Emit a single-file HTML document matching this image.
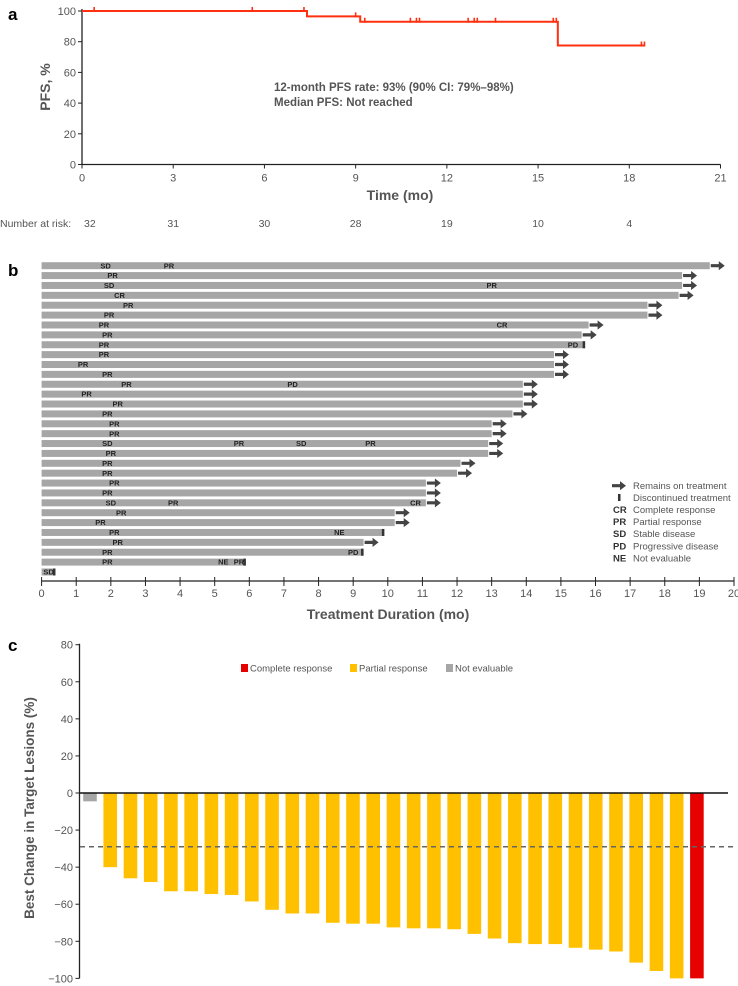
<!DOCTYPE html>
<html><head><meta charset="utf-8"><style>
html,body{margin:0;padding:0;background:#fff;}
svg{display:block;font-family:"Liberation Sans",Arial,sans-serif;}
</style></head><body>
<svg id="fig" width="738" height="986" viewBox="0 0 738 986" xmlns="http://www.w3.org/2000/svg"></svg>
<script>
// ---------- Panel a data ----------
const kmTimes = [0, 7.4, 9.15, 15.65, 18.5];
const kmSurv = [100, 96.5, 93, 77.5, 77.5];
const kmCensorT = [0.4, 5.6, 7.3, 9.0, 9.3, 10.8, 11.0, 11.1, 12.7, 12.9, 13.0, 13.6, 15.5, 15.6, 18.4, 18.5];
const kmXTicks = [0, 3, 6, 9, 12, 15, 18, 21];
const kmYTicks = [0, 20, 40, 60, 80, 100];
const atRisk = [32, 31, 30, 28, 19, 10, 4];
// ---------- Panel b data ----------
const swEnd = [19.3,18.5,18.5,18.4,17.5,17.5,15.8,15.6,15.7,14.8,14.8,14.8,13.9,13.9,13.9,13.6,13.0,13.0,12.9,12.9,12.1,12.0,11.1,11.1,11.1,10.2,10.2,9.9,9.3,9.3,5.9,0.4];
const swOngoing = [1,1,1,1,1,1,1,1,0,1,1,1,1,1,1,1,1,1,1,1,1,1,1,1,1,1,1,0,1,0,0,0];
const swLabels = [
 [["SD",1.85],["PR",3.68]],[["PR",2.05]],[["SD",1.95],["PR",13.0]],[["CR",2.25]],[["PR",2.5]],[["PR",1.95]],
 [["PR",1.8],["CR",13.3]],[["PR",1.9]],[["PR",1.8],["PD",15.35]],[["PR",1.8]],[["PR",1.2]],[["PR",1.9]],
 [["PR",2.45],["PD",7.25]],[["PR",1.3]],[["PR",2.2]],[["PR",1.9]],[["PR",2.1]],[["PR",2.1]],
 [["SD",1.9],["PR",5.7],["SD",7.5],["PR",9.5]],[["PR",2.0]],[["PR",1.9]],[["PR",1.9]],[["PR",2.1]],[["PR",1.9]],
 [["SD",2.0],["PR",3.8],["CR",10.8]],[["PR",2.3]],[["PR",1.7]],[["PR",2.1],["NE",8.6]],[["PR",2.2]],
 [["PR",1.9],["PD",9.0]],[["PR",1.9],["NE",5.25],["PR",5.7]],[["SD",0.2]]
];
const swXTicks = [0,1,2,3,4,5,6,7,8,9,10,11,12,13,14,15,16,17,18,19,20];
const swLegendCodes = ["CR","PR","SD","PD","NE"];
const swLegendText = ["Complete response","Partial response","Stable disease","Progressive disease","Not evaluable"];
// ---------- Panel c data ----------
const wfValues = [-4.5,-40,-46,-48,-53,-53,-54.5,-55,-58.5,-63,-65,-65,-70,-70.5,-70.5,-72.5,-73,-73,-73.5,-76,-78.5,-81,-81.5,-81.5,-83.5,-84.5,-85.5,-91.5,-96,-100,-100];
const wfResp = ["NE","PR","PR","PR","PR","PR","PR","PR","PR","PR","PR","PR","PR","PR","PR","PR","PR","PR","PR","PR","PR","PR","PR","PR","PR","PR","PR","PR","PR","PR","CR"];
const wfYTicks = [80,60,40,20,0,-20,-40,-60,-80,-100];
const wfThreshold = -29;

const svg = document.getElementById('fig');
const NS = 'http://www.w3.org/2000/svg';
function mk(tag, attrs, parent, text){
  const e = document.createElementNS(NS, tag);
  for (const k in attrs) e.setAttribute(k, attrs[k]);
  if (text !== undefined) e.textContent = text;
  (parent || svg).appendChild(e);
  return e;
}
const GREY = '#555';
function arrowPath(x, y){ return `M${x} ${y-1.6} h8 v-3 l6 4.6 l-6 4.6 v-3 h-8 z`; }

// ===== Panel a =====
const ga = mk('g', {});  
const ax = t => 82 + t * (720.5 - 82) / 21;
const ay = v => 164.5 + (11 - 164.5) * v / 100;
let t1 = mk('text', {x: 8, y: 20, 'font-size': 17, 'font-weight': 'bold', fill: '#000'}, ga, 'a');
 
let l = mk('line', {x1: ax(0), y1: ay(100) - 2, x2: ax(0), y2: ay(0), stroke: '#222', 'stroke-width': 1.3}, ga);
 
l = mk('line', {x1: ax(0), y1: ay(0), x2: ax(21), y2: ay(0), stroke: '#222', 'stroke-width': 1.3}, ga);
 
kmYTicks.forEach(v => {
  mk('line', {x1: ax(0) - 4, y1: ay(v), x2: ax(0), y2: ay(v), stroke: '#222'}, ga);
  const tt = mk('text', {x: ax(0) - 6, y: ay(v) + 4, 'font-size': 11, fill: GREY, 'text-anchor': 'end'}, ga, v);
   
});
kmXTicks.forEach(v => {
  mk('line', {x1: ax(v), y1: ay(0), x2: ax(v), y2: ay(0) + 4, stroke: '#222'}, ga);
  const tt = mk('text', {x: ax(v), y: ay(0) + 17, 'font-size': 11, fill: GREY, 'text-anchor': 'middle'}, ga, v);
   
});
let tx = mk('text', {x: 400, y: 200, 'font-size': 14, 'font-weight': 'bold', fill: GREY, 'text-anchor': 'middle'}, ga, 'Time (mo)');
 
tx = mk('text', {x: 0, y: 0, 'font-size': 14, 'font-weight': 'bold', fill: GREY, 'text-anchor': 'middle', transform: 'translate(50,87) rotate(-90)'}, ga, 'PFS, %');
 
tx = mk('text', {x: 274, y: 91, 'font-size': 11.5, 'font-weight': 'bold', fill: GREY}, ga, '12-month PFS rate: 93% (90% CI: 79%\u201398%)');
 
tx = mk('text', {x: 274, y: 106, 'font-size': 11.5, 'font-weight': 'bold', fill: GREY}, ga, 'Median PFS: Not reached');
 
let d = 'M' + ax(kmTimes[0]) + ' ' + ay(kmSurv[0]);
for (let i = 1; i < kmTimes.length; i++) {
  d += ' H' + ax(kmTimes[i]) + ' V' + ay(kmSurv[i]);
}
let kp = mk('path', {d: d, fill: 'none', stroke: '#ff3010', 'stroke-width': 2}, ga);
 
function survAt(t){ let s = kmSurv[0]; for (let i = 0; i < kmTimes.length; i++) if (t >= kmTimes[i]) s = kmSurv[i]; return s; }
kmCensorT.forEach(t => {
  const c = mk('line', {x1: ax(t), y1: ay(survAt(t)) - 4, x2: ax(t), y2: ay(survAt(t)) + 1, stroke: '#ff3010', 'stroke-width': 1.6}, ga);
   
});
tx = mk('text', {x: 0, y: 227, 'font-size': 10.5, fill: GREY}, ga, 'Number at risk:');
 
atRisk.forEach((n, i) => {
  const tt = mk('text', {x: ax(kmXTicks[i]) + (i === 0 ? 2 : 0), y: 227, 'font-size': 10.5, fill: GREY, 'text-anchor': i === 0 ? 'start' : 'middle'}, ga, n);
   
});

// ===== Panel b =====
const gb = mk('g', {});  
const bx = m => 41.6 + m * (734 - 41.6) / 20;
const by = i => 265.7 + i * 9.88;
t1 = mk('text', {x: 8, y: 276, 'font-size': 17, 'font-weight': 'bold', fill: '#000'}, gb, 'b');
 
swEnd.forEach((e, i) => {
  const r = mk('rect', {x: bx(0), y: by(i) - 3.5, width: bx(e) - bx(0), height: 7, fill: '#a6a6a6'}, gb);
   
  if (swOngoing[i]) {
    const a = mk('path', {d: arrowPath(bx(e) + 1, by(i)), fill: '#444'}, gb);
     
  } else {
    const m = mk('rect', {x: bx(e) - 2.5, y: by(i) - 3.5, width: 2.5, height: 7, fill: '#333'}, gb);
     
  }
  swLabels[i].forEach(lb => {
    const tt = mk('text', {x: bx(lb[1]), y: by(i) + 2.6, 'font-size': 7.5, 'font-weight': 'bold', fill: '#222', 'text-anchor': 'middle'}, gb, lb[0]);
     
  });
});
l = mk('line', {x1: bx(0), y1: 581, x2: bx(20), y2: 581, stroke: '#222', 'stroke-width': 1.2}, gb);
 
swXTicks.forEach(v => {
  mk('line', {x1: bx(v), y1: 577, x2: bx(v), y2: 586, stroke: '#222'}, gb);
  const tt = mk('text', {x: bx(v), y: 597, 'font-size': 11, fill: GREY, 'text-anchor': 'middle'}, gb, v);
   
});
tx = mk('text', {x: 388, y: 619, 'font-size': 14, 'font-weight': 'bold', fill: GREY, 'text-anchor': 'middle'}, gb, 'Treatment Duration (mo)');
 
// legend b
const lg = mk('g', {}, gb);  
mk('path', {d: arrowPath(612, 485.7), fill: '#444'}, lg);
tx = mk('text', {x: 633, y: 489, 'font-size': 9.5, fill: GREY}, lg, 'Remains on treatment');
 
mk('rect', {x: 618, y: 494, width: 2.5, height: 7, fill: '#333'}, lg);
tx = mk('text', {x: 633, y: 501, 'font-size': 9.5, fill: GREY}, lg, 'Discontinued treatment');
 
swLegendCodes.forEach((c, i) => {
  const yy = 513 + i * 12.1;
  mk('text', {x: 613, y: yy, 'font-size': 9.5, 'font-weight': 'bold', fill: '#333'}, lg, c);
  const tt = mk('text', {x: 633, y: yy, 'font-size': 9.5, fill: GREY}, lg, swLegendText[i]);
   
});

// ===== Panel c =====
const gc = mk('g', {});  
const cy = v => 793 + (793 - 644.7) * (-v) / 80;
const cx = i => 90 + i * 20.23;
t1 = mk('text', {x: 8, y: 651, 'font-size': 17, 'font-weight': 'bold', fill: '#000'}, gc, 'c');
 
const colors = {CR: '#e60000', PR: '#ffc000', NE: '#a6a6a6'};
wfValues.forEach((v, i) => {
  const r = mk('rect', {x: cx(i) - 6.8, y: cy(0), width: 13.6, height: cy(v) - cy(0), fill: colors[wfResp[i]]}, gc);
   
});
l = mk('line', {x1: 79.5, y1: cy(80) - 1, x2: 79.5, y2: cy(-100), stroke: '#222', 'stroke-width': 1.3}, gc);
 
l = mk('line', {x1: 79.5, y1: cy(0), x2: 728, y2: cy(0), stroke: '#111', 'stroke-width': 1.5}, gc);
 
l = mk('line', {x1: 80, y1: cy(wfThreshold), x2: 736, y2: cy(wfThreshold), stroke: '#666', 'stroke-width': 1.5, 'stroke-dasharray': '5,4'}, gc);
 
wfYTicks.forEach(v => {
  mk('line', {x1: 75.5, y1: cy(v), x2: 79.5, y2: cy(v), stroke: '#222'}, gc);
  const tt = mk('text', {x: 73, y: cy(v) + 4, 'font-size': 11, fill: GREY, 'text-anchor': 'end'}, gc, v < 0 ? '\u2212' + (-v) : v);
   
});
tx = mk('text', {x: 0, y: 0, 'font-size': 13.5, 'font-weight': 'bold', fill: GREY, 'text-anchor': 'middle', transform: 'translate(34,808) rotate(-90)'}, gc, 'Best Change in Target Lesions (%)');
 
const lc = mk('g', {}, gc);  
[['#e60000', 241, 'Complete response'], ['#ffc000', 350, 'Partial response'], ['#a6a6a6', 446, 'Not evaluable']].forEach(e => {
  mk('rect', {x: e[1], y: 664, width: 7, height: 8, fill: e[0]}, lc);
  const tt = mk('text', {x: e[1] + 9, y: 671.5, 'font-size': 9.5, fill: GREY}, lc, e[2]);
   
});
</script>
</body></html>
